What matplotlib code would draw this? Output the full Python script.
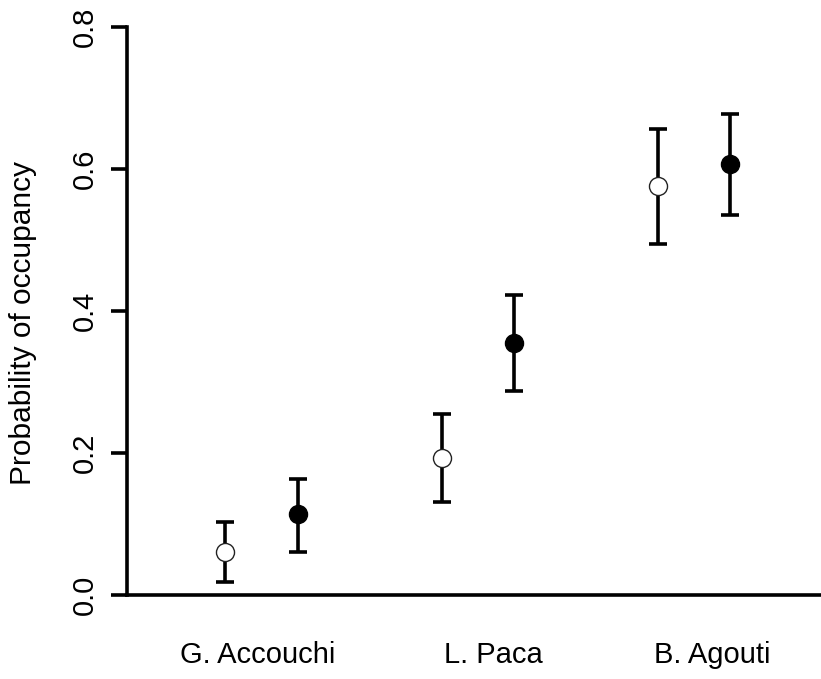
import numpy as np
import matplotlib.pyplot as plt

species = ['G. Accouchi', 'L. Paca', 'B. Agouti']
label_pos = [0.98, 2.07, 3.085]

# open symbols (first estimate of each pair)
open_val = [0.061, 0.193, 0.576]
open_lo = [0.018, 0.131, 0.495]
open_hi = [0.103, 0.255, 0.657]

# filled symbols
fill_val = [0.114, 0.355, 0.608]
fill_lo = [0.061, 0.288, 0.535]
fill_hi = [0.164, 0.423, 0.678]

y_ticks = [0.0, 0.2, 0.4, 0.6, 0.8]

plt.rcParams['font.family'] = ['Liberation Sans', 'DejaVu Sans']

fig = plt.figure(figsize=(8.21, 6.79), dpi=100)
ax = fig.add_axes([127 / 821, 84 / 679, 1 - 127 / 821, (595 - 27.3) / 679])

groups = np.arange(1, len(species) + 1)
off = 1 / 6
lw = 2.6


def draw(xs, val, lo, hi, face):
    val = np.array(val)
    err = [val - np.array(lo), np.array(hi) - val]
    ax.errorbar(xs, val, yerr=err, fmt='none', ecolor='black', elinewidth=lw,
                capsize=6.5, capthick=lw, zorder=2, clip_on=False)
    ax.plot(xs, val, 'o', ms=13, mfc=face, mec='#222222' if face == 'white' else 'black',
            mew=1.0, zorder=3, clip_on=False)


draw(groups - off, open_val, open_lo, open_hi, 'white')
draw(groups + off, fill_val, fill_lo, fill_hi, 'black')

ax.set_xlim(0.378, 3.587)
ax.set_ylim(0, 0.8)

for s in ['top', 'right']:
    ax.spines[s].set_visible(False)
ax.spines['left'].set_linewidth(lw)
ax.spines['bottom'].set_linewidth(lw)
ax.spines['left'].set_bounds(0, 0.8)

ax.set_yticks(y_ticks)
ax.set_yticklabels([f'{t:.1f}' for t in y_ticks], rotation=90, va='center')
ax.tick_params(axis='y', length=11.5, width=lw, pad=9, labelsize=21, labelcolor='black')

ax.set_xticks(label_pos)
ax.set_xticklabels(species)
ax.tick_params(axis='x', length=0, pad=33, labelsize=21)

ax.set_ylabel('Probability of occupancy', fontsize=21.5)
ax.yaxis.set_label_coords(-90 / 694, 0.479)

fig.savefig('out.png', dpi=100)
